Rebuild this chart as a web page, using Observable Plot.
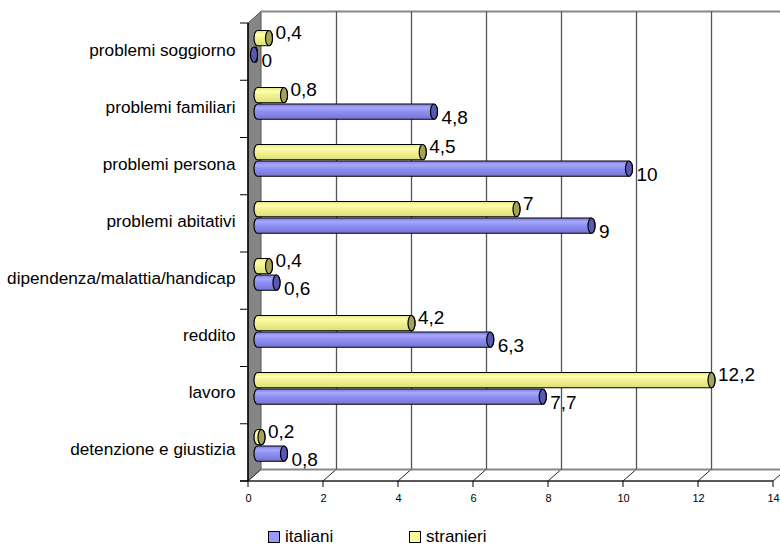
<!DOCTYPE html>
<html>
<head>
<meta charset="utf-8">
<script src="https://cdn.jsdelivr.net/npm/d3@7"></script>
<script src="https://cdn.jsdelivr.net/npm/@observablehq/plot@0.6"></script>
<style>
  html, body { margin: 0; padding: 0; background: #fff; }
  #wrap { width: 780px; height: 547px; position: relative; overflow: hidden; font-family: "Liberation Sans", Arial, sans-serif; }
  #legend { position: absolute; left: 0; top: 528px; height: 18px; width: 780px; font-size: 17px; line-height: 18px; color: #000; }
  .li { position: absolute; top: 0; display: flex; align-items: center; height: 18px; }
  .sw { width: 10px; height: 10px; border: 1px solid #000; margin-right: 5px; }
</style>
</head>
<body>
<div id="wrap">
  <div id="chart"></div>
  <div id="legend"></div>
</div>
<script>
// ---- data ----
const categories = [
  "problemi soggiorno",
  "problemi familiari",
  "problemi persona",
  "problemi abitativi",
  "dipendenza/malattia/handicap",
  "reddito",
  "lavoro",
  "detenzione e giustizia"
];
const italiani  = [0, 4.8, 10, 9, 0.6, 6.3, 7.7, 0.8];
const stranieri = [0.4, 0.8, 4.5, 7, 0.4, 4.2, 12.2, 0.2];
const seriesNames = ["italiani", "stranieri"];
const xTicks = [0, 2, 4, 6, 8, 10, 12, 14];
const gridTicks = [2, 4, 6, 8, 10, 12, 14];

(function () {
// ---- tables ----
const rowsIt = categories.map((c, i) => ({category: c, series: seriesNames[0], value: italiani[i]}));
const rowsSt = categories.map((c, i) => ({category: c, series: seriesNames[1], value: stranieri[i]}));
const fmt = v => String(v).replace(".", ",");

// ---- layout ----
const W = 780, H = 528;
const mTop = 23, mBottom = 47, mLeft = 248, mRight = 7;
const DX = 13, DY = -11.5;      // 3D depth offset
const step = (H - mBottom - mTop) / categories.length;
const yIns = {insetTop: 6.5, insetBottom: step - 22};   // stranieri (upper)
const bIns = {insetTop: 23, insetBottom: step - 38.5};  // italiani (lower)
const barDx = 6;
const cap = 3.5;

const bodyOpts = (ins, fill) => ({
  x1: () => 0, x2: "value", y: "category", ...ins,
  insetRight: -cap, dx: barDx, rx: cap, ry: 8,
  fill, stroke: "#000", strokeWidth: 1.2
});
const capOpts = (ins, fill) => ({
  x1: "value", x2: "value", y: "category", ...ins,
  insetLeft: -cap, insetRight: -cap, dx: barDx, rx: cap, ry: 8,
  fill, stroke: "#000", strokeWidth: 1.2
});

const plot = Plot.plot({
  width: W, height: H,
  marginTop: mTop, marginBottom: mBottom, marginLeft: mLeft, marginRight: mRight,
  style: {fontFamily: "'Liberation Sans', Arial, sans-serif", background: "transparent", overflow: "visible", color: "#000"},
  x: {domain: [0, 14], axis: null},
  y: {domain: categories, padding: 0, axis: null},
  marks: [
    Plot.ruleX(gridTicks, {x: d => d, dx: DX, dy: DY, stroke: "#555", strokeWidth: 1.3}),
    Plot.barX(rowsSt, bodyOpts(yIns, "url(#gYellow)")),
    Plot.barX(rowsSt, capOpts(yIns, "#a3a35a")),
    Plot.barX(rowsIt, bodyOpts(bIns, "url(#gBlue)")),
    Plot.barX(rowsIt, capOpts(bIns, "#5858b0")),
    Plot.text(rowsSt, {x: "value", y: "category", text: d => fmt(d.value), dx: 12, dy: -20, textAnchor: "start", fontSize: 19, fill: "#000"}),
    Plot.text(rowsIt, {x: "value", y: "category", text: d => fmt(d.value), dx: 13, dy: 8, textAnchor: "start", fontSize: 19, fill: "#000"}),
    Plot.text(categories, {y: d => d, frameAnchor: "left", text: d => d, dx: -13, dy: -3, textAnchor: "end", fontSize: 17.2, fill: "#000"}),
    Plot.text(xTicks, {x: d => d, frameAnchor: "bottom", text: d => String(d), dy: 20, fontSize: 11, fill: "#000"})
  ]
});

document.getElementById("chart").appendChild(plot);

// ---- gradients + 3D decorations using Plot's scales ----
const svg = d3.select(plot);
const defs = svg.insert("defs", ":first-child");
function grad(id, stops) {
  const g = defs.append("linearGradient").attr("id", id).attr("x1", 0).attr("y1", 0).attr("x2", 0).attr("y2", 1);
  stops.forEach(([o, c]) => g.append("stop").attr("offset", o).attr("stop-color", c));
}
grad("gBlue", [[0, "#7c7cdc"], [0.25, "#a8a8ff"], [0.45, "#9292f4"], [1, "#7474d4"]]);
grad("gYellow", [[0, "#e4e47c"], [0.25, "#ffffb0"], [0.45, "#f4f494"], [1, "#dede78"]]);

const xs = plot.scale("x");
const X = v => xs.apply(v);
const yTop = mTop, yBot = H - mBottom;
const x0 = X(0), x14 = X(14);

const firstMark = plot.querySelector("g");
const deco = d3.select(plot.insertBefore(document.createElementNS("http://www.w3.org/2000/svg", "g"), firstMark));
deco.append("path")
  .attr("d", `M${x0},${yTop}L${x0 + DX},${yTop + DY}L${x0 + DX},${yBot + DY}L${x0},${yBot}Z`)
  .attr("fill", "#858585").attr("stroke", "#555").attr("stroke-width", 1);
deco.append("path")
  .attr("d", `M${x0},${yBot}L${x14},${yBot}L${x14 + DX},${yBot + DY}L${x0 + DX},${yBot + DY}Z`)
  .attr("fill", "#fff");
xTicks.forEach(t => {
  deco.append("line").attr("x1", X(t)).attr("y1", yBot).attr("x2", X(t) + DX).attr("y2", yBot + DY)
    .attr("stroke", "#222").attr("stroke-width", 1);
});
deco.append("line").attr("x1", x0 + DX).attr("y1", yBot + DY).attr("x2", x14 + DX).attr("y2", yBot + DY)
  .attr("stroke", "#888").attr("stroke-width", 2);
deco.append("line").attr("x1", x0 + DX).attr("y1", yTop + DY).attr("x2", W).attr("y2", yTop + DY)
  .attr("stroke", "#888").attr("stroke-width", 2);

const ax = svg.append("g");
ax.append("line").attr("x1", x0 - 8).attr("y1", yBot).attr("x2", x14).attr("y2", yBot)
  .attr("stroke", "#222").attr("stroke-width", 1.5);
ax.append("line").attr("x1", x0).attr("y1", yTop).attr("x2", x0).attr("y2", yBot)
  .attr("stroke", "#000").attr("stroke-width", 1.5);
xTicks.forEach(t => {
  ax.append("line").attr("x1", X(t)).attr("y1", yBot).attr("x2", X(t)).attr("y2", yBot + 6)
    .attr("stroke", "#000").attr("stroke-width", 1);
});
for (let i = 0; i <= categories.length; i++) {
  const yy = yTop + i * step;
  ax.append("line").attr("x1", x0 - 8).attr("y1", yy).attr("x2", x0).attr("y2", yy)
    .attr("stroke", "#000").attr("stroke-width", 1);
}

// ---- legend ----
const legendColors = {italiani: "#9999ff", stranieri: "#ffff99"};
const legendX = {italiani: 268, stranieri: 409};
const leg = d3.select("#legend");
seriesNames.forEach(s => {
  const it = leg.append("div").attr("class", "li").style("left", legendX[s] + "px");
  it.append("div").attr("class", "sw").style("background", legendColors[s]);
  it.append("span").text(s);
});
})();
</script>
</body>
</html>
